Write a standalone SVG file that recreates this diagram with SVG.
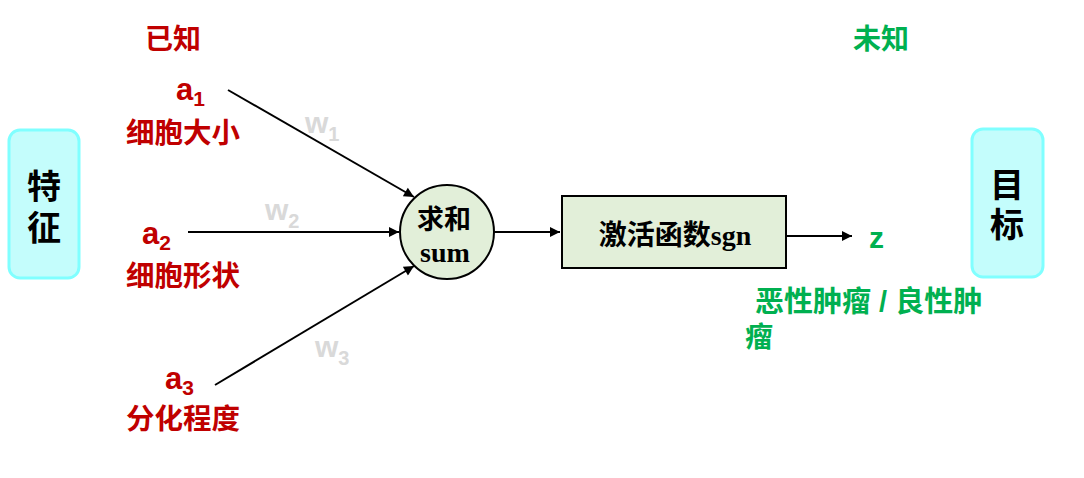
<svg xmlns="http://www.w3.org/2000/svg" width="1084" height="478" viewBox="0 0 1084 478">
<style>
.side{fill:#c4fdfc;stroke:#80ffff;stroke-width:3}
.sidet{font-family:"Liberation Sans","Noto Sans CJK SC",sans-serif;font-weight:bold;font-size:34px;fill:#000;text-anchor:middle}
.red{font-family:"Liberation Sans","Noto Sans CJK SC",sans-serif;font-weight:bold;fill:#c00000}
.grn{font-family:"Liberation Sans","Noto Sans CJK SC",sans-serif;font-weight:bold;fill:#00b050}
.w{font-family:"Liberation Sans",sans-serif;font-weight:bold;fill:#d9d9d9}
.ln{stroke:#000;stroke-width:2;fill:none}
.node{fill:#e2efd9;stroke:#000;stroke-width:2}
</style>
<defs>
<marker id="ah2" viewBox="0 0 10 10" refX="10" refY="5" markerWidth="12" markerHeight="10" orient="auto" markerUnits="userSpaceOnUse">
<path d="M0,0 L10,5 L0,10 z" fill="#000"/>
</marker>
</defs>
<g id="feature">
<rect class="side" x="9" y="130" width="70" height="148" rx="11"/>
<text class="sidet" x="44" y="199">特</text>
<text class="sidet" x="44" y="240">征</text>
</g>
<g id="target">
<rect class="side" x="972" y="129" width="71" height="148" rx="11"/>
<text class="sidet" x="1007" y="197">目</text>
<text class="sidet" x="1007" y="237">标</text>
</g>
<g id="known"><text class="red" x="145" y="49" font-size="28">已知</text></g>
<g id="unknown"><text class="grn" x="853" y="49" font-size="28">未知</text></g>
<g id="a1">
<text class="red" x="176" y="100" font-size="31">a<tspan font-size="21" dy="6">1</tspan></text>
<text class="red" x="126" y="143" font-size="28.5">细胞大小</text>
</g>
<g id="a2">
<text class="red" x="142" y="244" font-size="31">a<tspan font-size="21" dy="6">2</tspan></text>
<text class="red" x="126" y="286" font-size="28.5">细胞形状</text>
</g>
<g id="a3">
<text class="red" x="165" y="389" font-size="31">a<tspan font-size="21" dy="6">3</tspan></text>
<text class="red" x="126" y="429" font-size="28.5">分化程度</text>
</g>
<g id="weights">
<text class="w" x="305" y="133" font-size="30">w<tspan font-size="20" dy="8">1</tspan></text>
<text class="w" x="265" y="220" font-size="30">w<tspan font-size="20" dy="8">2</tspan></text>
<text class="w" x="315" y="357" font-size="30">w<tspan font-size="20" dy="8">3</tspan></text>
</g>
<g id="connectors">
<line class="ln" x1="228" y1="90" x2="414" y2="197" marker-end="url(#ah2)"/>
<line class="ln" x1="188" y1="232" x2="399" y2="232" marker-end="url(#ah2)"/>
<line class="ln" x1="215" y1="385" x2="414" y2="266" marker-end="url(#ah2)"/>
<line class="ln" x1="494" y1="232" x2="560" y2="232" marker-end="url(#ah2)"/>
<line class="ln" x1="786" y1="236" x2="852" y2="236" marker-end="url(#ah2)"/>
</g>
<g id="sum">
<circle class="node" cx="447" cy="232" r="47"/>
<text x="444" y="229" font-family="Liberation Sans,Noto Sans CJK SC,sans-serif" font-weight="bold" font-size="27" text-anchor="middle">求和</text>
<text x="445" y="262" font-family="Liberation Serif,serif" font-weight="bold" font-size="28" text-anchor="middle">sum</text>
</g>
<g id="activation">
<rect class="node" x="562" y="196" width="224" height="72"/>
<text x="675" y="245" font-family="Liberation Sans,Noto Sans CJK SC,sans-serif" font-weight="bold" font-size="28" text-anchor="middle">激活函数<tspan font-family="Liberation Serif,serif">sgn</tspan></text>
</g>
<g id="z">
<text class="grn" x="869" y="248" font-size="30">z</text>
</g>
<g id="result">
<text class="grn" x="755" y="312" font-size="29">恶性肿瘤 / 良性肿</text>
<text class="grn" x="745" y="347" font-size="28">瘤</text>
</g>
</svg>
